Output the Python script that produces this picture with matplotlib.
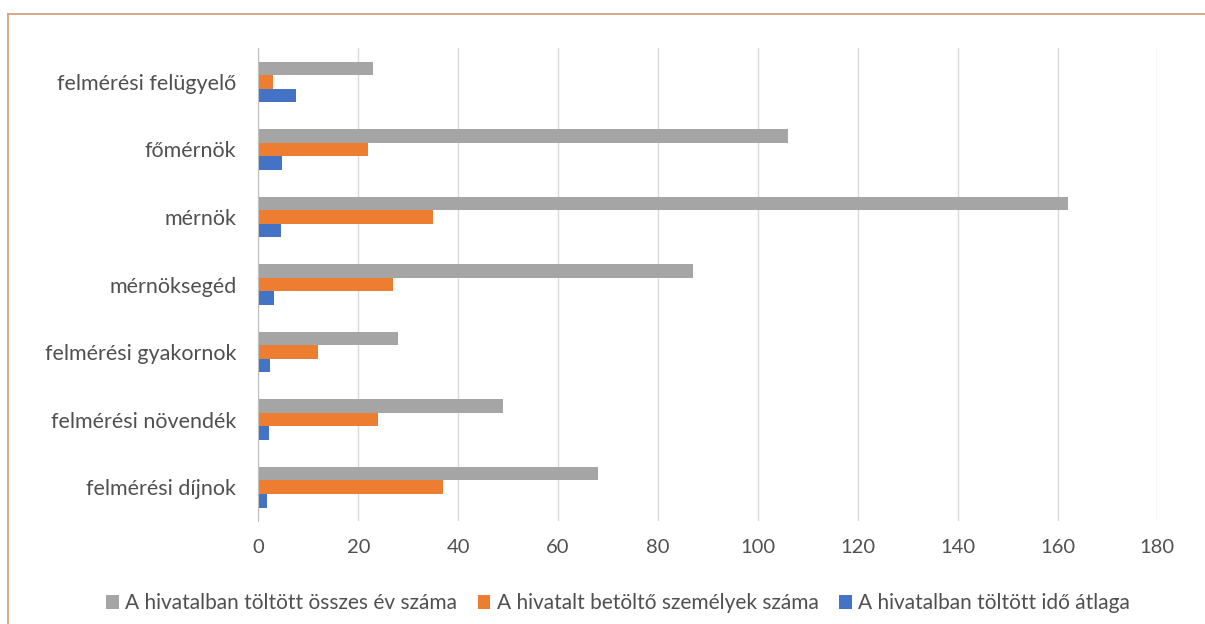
import matplotlib.pyplot as plt
from matplotlib.lines import Line2D
import numpy as np

plt.rcParams['font.family'] = ['Lato', 'DejaVu Sans']

categories = ['felmérési felügyelő', 'főmérnök', 'mérnök', 'mérnöksegéd',
              'felmérési gyakornok', 'felmérési növendék', 'felmérési díjnok']
osszes_ev = [23, 106, 162, 87, 28, 49, 68]
szemelyek = [3, 22, 35, 27, 12, 24, 37]
atlag = [7.6, 4.7, 4.6, 3.1, 2.3, 2.2, 1.8]

series_names = ['A hivatalban töltött összes év száma',
                'A hivatalt betöltő személyek száma',
                'A hivatalban töltött idő átlaga']
colors = ['#A5A5A5', '#ED7D31', '#4472C4']
text_color = '#505050'

fig = plt.figure(figsize=(12.05, 6.24), dpi=100)
ax = fig.add_axes([0.2145, 0.165, 0.746, 0.758])

y = np.arange(len(categories))
h = 0.2
for offset, vals, col, name in zip([-h, 0, h], [osszes_ev, szemelyek, atlag],
                                   colors, series_names):
    ax.barh(y + offset, vals, height=h, color=col, label=name, zorder=3)

ax.set_xlim(0, 180)
ax.set_xticks(np.arange(0, 181, 20))
ax.set_ylim(len(categories) - 0.5, -0.5)
ax.set_yticks(y)
ax.set_yticklabels(categories, fontsize=15.5)

ax.grid(axis='x', color='#D9D9D9', linewidth=1.0, zorder=0)
for s in ['top', 'right', 'bottom']:
    ax.spines[s].set_visible(False)
ax.spines['left'].set_color('#BFBFBF')
ax.spines['left'].set_zorder(4)
ax.tick_params(axis='both', length=0, colors=text_color)
ax.tick_params(axis='x', pad=13, labelsize=14.5)
ax.tick_params(axis='y', pad=16)

fig.legend(loc='lower center', bbox_to_anchor=(0.513, -0.013), ncol=3,
           frameon=False, fontsize=15, labelcolor=text_color,
           handlelength=0.6, handleheight=0.6, handletextpad=0.3,
           columnspacing=1.0)

# orange frame on top and left
fig.add_artist(Line2D([8 / 1205, 1], [1 - 14 / 624, 1 - 14 / 624],
                      transform=fig.transFigure, color='#D9A07E', linewidth=1.3))
fig.add_artist(Line2D([8 / 1205, 8 / 1205], [0, 1 - 14 / 624],
                      transform=fig.transFigure, color='#D9A07E', linewidth=1.3))

fig.savefig('out.png', dpi=100)
